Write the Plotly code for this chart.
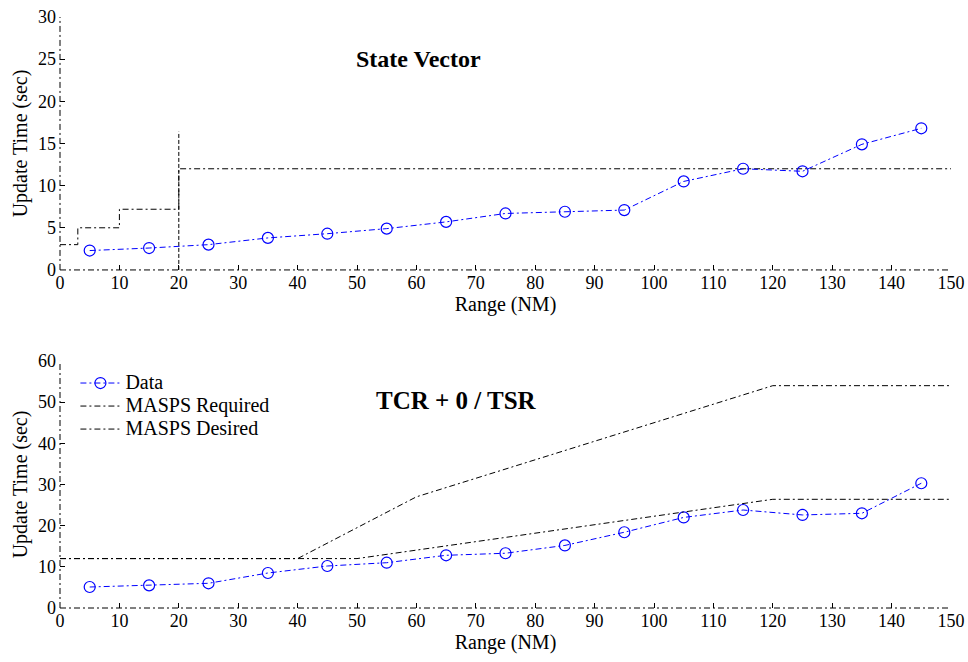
import plotly.graph_objects as go

# Range bins (NM)
range_nm = [5, 15, 25, 35, 45, 55, 65, 75, 85, 95, 105, 115, 125, 135, 145]

# State Vector measured update times (sec)
sv_data = [2.3, 2.6, 3.0, 3.8, 4.3, 4.9, 5.7, 6.7, 6.9, 7.1, 10.5, 12.0, 11.7, 14.9, 16.8]

# State Vector MASPS requirement (step profile)
sv_req_x = [0, 3, 3, 10, 10, 20, 20, 150]
sv_req_y = [3, 3, 5, 5, 7.2, 7.2, 12, 12]

# Range limit marker at 20 NM
sv_lim_x = [20, 20]
sv_lim_y = [0, 16.4]

# TCR + 0 / TSR measured update times (sec)
tcr_data = [5.1, 5.5, 6.0, 8.5, 10.2, 11.0, 12.8, 13.3, 15.2, 18.4, 22.0, 23.8, 22.6, 23.0, 30.3]

# TCR MASPS required / desired profiles
tcr_req_x = [0, 40, 60, 120, 150]
tcr_req_y = [12, 12, 27, 54, 54]
tcr_des_x = [0, 50, 120, 150]
tcr_des_y = [12, 12, 26.4, 26.4]

x_ticks = list(range(0, 151, 10))
sv_y_ticks = list(range(0, 31, 5))
tcr_y_ticks = list(range(0, 61, 10))

BLUE = "#0000ff"
DASHDOT = "6px,3px,2px,3px"
SERIF = "Liberation Serif, Times New Roman, serif"


def legend_label(text):
    return f'<span style="font-size:20px">{text}</span>'


fig = go.Figure()

marker = dict(symbol="circle-open", size=11, color=BLUE, line=dict(width=1.2, color=BLUE))

# Top panel
fig.add_trace(go.Scatter(x=sv_req_x, y=sv_req_y, mode="lines", xaxis="x", yaxis="y",
                         line=dict(color="black", width=1, dash=DASHDOT), showlegend=False))
fig.add_trace(go.Scatter(x=sv_lim_x, y=sv_lim_y, mode="lines", xaxis="x", yaxis="y",
                         line=dict(color="black", width=1, dash="4px,2px"), showlegend=False))
fig.add_trace(go.Scatter(x=range_nm, y=sv_data, mode="lines+markers", xaxis="x", yaxis="y",
                         line=dict(color=BLUE, width=1, dash=DASHDOT), marker=marker,
                         showlegend=False))

# Bottom panel
fig.add_trace(go.Scatter(x=range_nm, y=tcr_data, mode="lines+markers", xaxis="x2", yaxis="y2",
                         name=legend_label("Data"), line=dict(color=BLUE, width=1, dash=DASHDOT),
                         marker=marker))
fig.add_trace(go.Scatter(x=tcr_req_x, y=tcr_req_y, mode="lines", xaxis="x2", yaxis="y2",
                         name=legend_label("MASPS Required"),
                         line=dict(color="black", width=1, dash=DASHDOT)))
fig.add_trace(go.Scatter(x=tcr_des_x, y=tcr_des_y, mode="lines", xaxis="x2", yaxis="y2",
                         name=legend_label("MASPS Desired"),
                         line=dict(color="black", width=1, dash=DASHDOT)))

tickfont = dict(family=SERIF, size=18, color="black")
titlefont = dict(family=SERIF, size=20, color="black")


def xaxis_cfg(anchor):
    return dict(range=[0, 150], tickvals=x_ticks, ticks="inside", ticklen=5, tickcolor="black",
                showline=False, showgrid=False, zeroline=False, tickfont=tickfont,
                automargin=False,
                title=dict(text="Range (NM)", font=titlefont, standoff=2), anchor=anchor)


def yaxis_cfg(rng, ticks, domain, anchor):
    return dict(range=rng, tickvals=ticks, ticks="inside", ticklen=5, tickcolor="black",
                showline=False, showgrid=False, zeroline=False, tickfont=tickfont, domain=domain,
                automargin=False, ticklabelstandoff=3,
                title=dict(text="Update Time (sec)", font=titlefont, standoff=4), anchor=anchor)


fig.update_layout(
    width=968, height=662,
    margin=dict(l=60, r=17, t=17, b=54),
    paper_bgcolor="white", plot_bgcolor="white",
    xaxis=xaxis_cfg("y"),
    yaxis=yaxis_cfg([0, 30], sv_y_ticks, [0.572, 1.0], "x"),
    xaxis2=xaxis_cfg("y2"),
    yaxis2=yaxis_cfg([0, 60], tcr_y_ticks, [0.0, 0.418], "x2"),
    legend=dict(x=0.0173, y=0.4086, xanchor="left", yanchor="top", bgcolor="rgba(0,0,0,0)",
                font=dict(family=SERIF, size=15.4, color="black"), tracegroupgap=0,
                itemwidth=40),
    showlegend=True,
    annotations=[
        dict(text="<b>State Vector</b>", x=60.4, y=25.03, xref="x", yref="y", showarrow=False,
             font=dict(family=SERIF, size=24, color="black")),
        dict(text="<b>TCR + 0 / TSR</b>", x=66.7, y=50.3, xref="x2", yref="y2", showarrow=False,
             font=dict(family=SERIF, size=25, color="black")),
    ],
)

# Dash-dot axis lines along the left and bottom edges of each panel
for xr, yr in (("x", "y"), ("x2", "y2")):
    fig.add_shape(type="line", xref=f"{xr} domain", yref=f"{yr} domain", x0=0, x1=1, y0=0, y1=0,
                  line=dict(color="black", width=1, dash=DASHDOT))
    fig.add_shape(type="line", xref=f"{xr} domain", yref=f"{yr} domain", x0=0, x1=0, y0=0, y1=1,
                  line=dict(color="black", width=1, dash=DASHDOT))

fig.write_html("out.html")
